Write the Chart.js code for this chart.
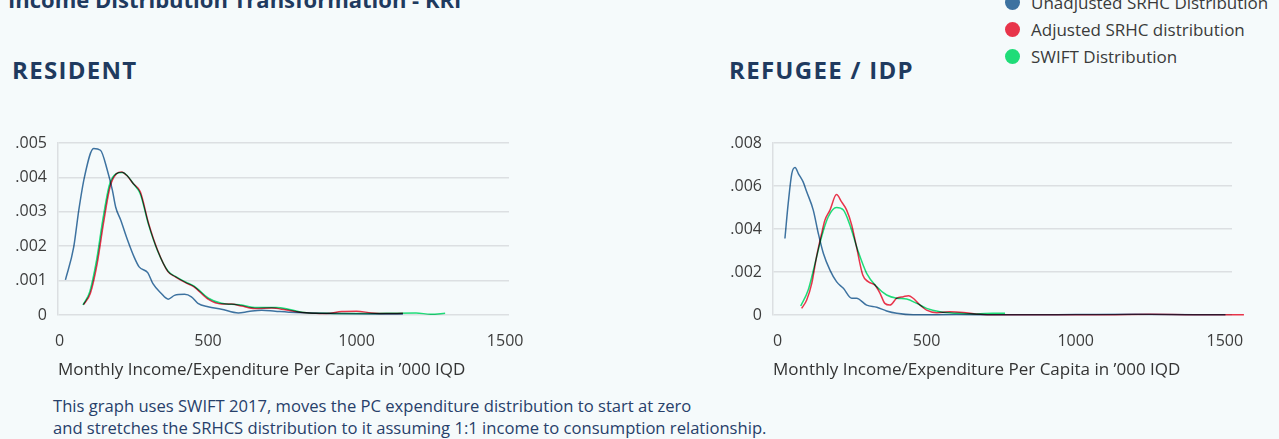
<!DOCTYPE html>
<html>
<head>
<meta charset="utf-8">
<script src="https://cdn.jsdelivr.net/npm/chart.js@4.4.1/dist/chart.umd.min.js"></script>
<style>
  body { margin: 0; background: #f5fafb; width: 1279px; height: 439px; overflow: hidden; position: relative; font-family: 'Open Sans', sans-serif; }
  .t { position: absolute; margin: 0; font-weight: 700; color: #1f3a5f; font-size: 22px; line-height: 22px; white-space: nowrap; }
  #titulo { left: 8px; top: -12px; }
  .sub { font-size: 24px; line-height: 24px; letter-spacing: 1.3px; }
  #residente { left: 12px; top: 58px; }
  #refugiado { left: 729px; top: 58px; }
  #leyenda { position: absolute; left: 1005px; top: -11px; }
  .item { display: flex; align-items: center; height: 27px; font-size: 17px; color: #3a3a3a; white-space: nowrap; }
  .punto { width: 15px; height: 15px; border-radius: 50%; margin-right: 11px; }
  #nota { position: absolute; left: 53px; top: 395px; font-size: 16.6px; line-height: 22px; color: #27406a; white-space: nowrap; }
  canvas { position: absolute; }
</style>
</head>
<body>
<h1 class="t" id="titulo">Income Distribution Transformation - KRI</h1>
<h2 class="t sub" id="residente">RESIDENT</h2>
<h2 class="t sub" id="refugiado">REFUGEE / IDP</h2>
<div id="leyenda"></div>
<canvas id="graficoResidente" width="640" height="290" style="left:0;top:100px"></canvas>
<canvas id="graficoRefugiado" width="564" height="290" style="left:715px;top:100px"></canvas>
<div id="nota">This graph uses SWIFT 2017, moves the PC expenditure distribution to start at zero<br>and stretches the SRHCS distribution to it assuming 1:1 income to consumption relationship.</div>
<script>
const seriesNames = ["Unadjusted SRHC Distribution", "Adjusted SRHC distribution", "SWIFT Distribution"];
const seriesColors = ["#3d72a0", "#e8344a", "#1fdc78"];
const xTicks = [0, 500, 1000, 1500];
const xTitle = "Monthly Income/Expenditure Per Capita in \u2019000 IQD";

// Resident densities
const resUnadjX = [20, 48, 65, 84, 115, 138, 161, 178, 189, 206, 229, 251, 268, 297, 314, 342, 366, 387, 421, 444, 466, 500, 545, 602, 636, 681, 726, 794, 919, 1156];
const resUnadjY = [.00102, .00198, .00305, .00401, .00484, .00479, .00421, .00363, .00314, .00276, .00218, .00169, .00140, .00123, .00092, .00063, .00046, .00057, .00060, .00053, .00034, .00024, .00017, .00006, .00010, .00014, .00011, .00007, .00004, .00003];
const resAdjX = [81, 104, 127, 148, 170, 192, 209, 226, 248, 272, 300, 330, 365, 390, 424, 453, 500, 545, 579, 613, 658, 715, 760, 817, 860, 900, 950, 1000, 1050, 1100, 1156];
const resAdjY = [.00030, .00063, .00150, .00266, .00372, .00411, .00416, .00406, .00382, .00358, .00266, .00189, .00126, .00111, .00094, .00082, .00046, .00032, .00032, .00026, .00019, .00020, .00015, .00007, .00005, .00004, .00010, .00011, .00006, .00004, .00005];
const resSwiftX = [79, 102, 125, 146, 168, 190, 212, 229, 250, 272, 300, 330, 365, 390, 424, 453, 500, 545, 579, 613, 658, 730, 775, 817, 860, 900, 950, 1000, 1100, 1200, 1250, 1298];
const resSwiftY = [.00029, .00068, .00160, .00278, .00378, .00410, .00414, .00404, .00380, .00352, .00262, .00187, .00128, .00112, .00096, .00084, .00050, .00034, .00031, .00029, .00022, .00022, .00016, .00008, .00005, .00005, .00004, .00004, .00005, .00006, .00002, .00005];

// Refugee / IDP densities
const refUnadjX = [25, 36, 48, 59, 70, 86, 98, 120, 137, 154, 176, 198, 221, 249, 265, 299, 333, 366, 400, 455, 600, 800, 1000, 1200, 1400, 1502];
const refUnadjY = [.00356, .00519, .00658, .00686, .00658, .00619, .00573, .00488, .00379, .00286, .00209, .00155, .00124, .00078, .00078, .00046, .00036, .00019, .00008, .00001, .00002, .00001, .00002, .00003, .00001, .00001];
const refAdjX = [81, 98, 115, 131, 148, 159, 176, 198, 215, 232, 249, 265, 286, 304, 327, 344, 360, 377, 400, 422, 439, 455, 472, 500, 534, 578, 623, 668, 735, 900, 1100, 1250, 1400, 1564];
const refAdjY = [.00031, .00070, .00147, .00271, .00379, .00441, .00488, .00560, .00526, .00488, .00418, .00317, .00186, .00155, .00139, .00101, .00054, .00046, .00078, .00085, .00090, .00078, .00054, .00023, .00011, .00015, .00012, .00005, .00001, .00001, .00001, .00003, .00001, .00001];
const refSwiftX = [78, 103, 126, 148, 170, 198, 221, 243, 271, 299, 333, 366, 400, 433, 467, 500, 545, 601, 668, 723, 763];
const refSwiftY = [.00042, .00116, .00240, .00364, .00456, .00500, .00488, .00418, .00294, .00194, .00131, .00093, .00078, .00074, .00054, .00031, .00015, .00008, .00005, .00008, .00008];

Chart.defaults.font.family = "'Open Sans', sans-serif";

// overlapping curves darken each other
const multiplicar = {
  id: "multiplicar",
  beforeDatasetsDraw(chart) { chart.ctx.save(); chart.ctx.globalCompositeOperation = "multiply"; },
  afterDatasetsDraw(chart) { chart.ctx.restore(); }
};

function puntos(xs, ys) {
  return xs.map((x, i) => ({ x: x, y: ys[i] }));
}

function cargarLeyenda() {
  const cont = document.getElementById("leyenda");
  seriesNames.forEach((n, i) => {
    const item = document.createElement("div");
    item.className = "item";
    const p = document.createElement("span");
    p.className = "punto";
    p.style.background = seriesColors[i];
    item.appendChild(p);
    item.appendChild(document.createTextNode(n));
    cont.appendChild(item);
  });
}

function dibujarPanel(id, lineas, xMin, xMax, yMax, yStep, padRight) {
  new Chart(document.getElementById(id), {
    type: "line",
    data: {
      datasets: lineas.map((d, i) => ({
        label: seriesNames[i],
        data: d,
        borderColor: seriesColors[i],
        borderWidth: 1.5,
        pointRadius: 0,
        cubicInterpolationMode: "monotone",
        fill: false,
        clip: false
      }))
    },
    options: {
      responsive: false,
      animation: false,
      events: [],
      layout: { padding: { top: 43, right: padRight, left: 0, bottom: 0 } },
      plugins: { legend: { display: false }, tooltip: { enabled: false } },
      scales: {
        x: {
          type: "linear",
          min: xMin,
          max: xMax,
          afterBuildTicks: s => { s.ticks = xTicks.map(v => ({ value: v })); },
          afterFit: s => { s.height = 75; },
          grid: { display: false },
          border: { display: false },
          ticks: { color: "#3c3c3c", font: { size: 16 }, padding: 9, maxRotation: 0, autoSkip: false, callback: v => String(v) },
          title: { display: true, text: xTitle, align: "start", color: "#333", font: { size: 17 }, padding: { top: 4, bottom: 10 } }
        },
        y: {
          min: 0,
          max: yMax,
          afterFit: s => { s.width = 58; },
          ticks: {
            stepSize: yStep,
            color: "#3c3c3c",
            font: { size: 16 },
            padding: 11,
            callback: v => v === 0 ? "0" : v.toFixed(3).replace(/^0/, "")
          },
          grid: { color: "#dcdfe2", lineWidth: 1.5, drawTicks: false },
          border: { color: "#dcdfe2", width: 1.5 }
        }
      }
    },
    plugins: [multiplicar]
  });
}

cargarLeyenda();
dibujarPanel("graficoResidente", [puntos(resUnadjX, resUnadjY), puntos(resAdjX, resAdjY), puntos(resSwiftX, resSwiftY)], -5, 1513, 0.005, 0.001, 131);
dibujarPanel("graficoRefugiado", [puntos(refUnadjX, refUnadjY), puntos(refAdjX, refAdjY), puntos(refSwiftX, refSwiftY)], -15, 1524, 0.008, 0.002, 47);
</script>
</body>
</html>
